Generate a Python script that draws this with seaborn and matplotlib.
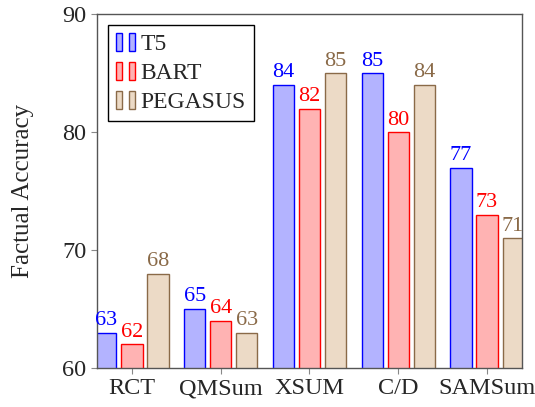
import pandas as pd
import matplotlib
matplotlib.use('Agg')
import matplotlib.pyplot as plt
import seaborn as sns
from matplotlib.patches import Rectangle
from matplotlib.legend_handler import HandlerTuple

# data
datasets = ['RCT', 'QMSum', 'XSUM', 'C/D', 'SAMSum']
models = ['T5', 'BART', 'PEGASUS']
t5 = [63, 65, 84, 85, 77]
bart = [62, 64, 82, 80, 73]
pegasus = [68, 63, 85, 84, 71]

fills = ['#b3b3ff', '#ffb3b3', '#ecdac6']
edges = ['#0000ff', '#ff0000', '#8a6a48']

df = pd.DataFrame({
    'dataset': datasets * 3,
    'model': ['T5'] * 5 + ['BART'] * 5 + ['PEGASUS'] * 5,
    'score': t5 + bart + pegasus,
})

sns.set_style('white')
plt.rcParams['font.family'] = ['Liberation Serif', 'DejaVu Serif']

fig = plt.figure(figsize=(5.35, 4.07), dpi=100)
ax = fig.add_axes([0.1813, 0.0958, 0.7944, 0.8686])

sns.barplot(data=df, x='dataset', y='score', hue='model', order=datasets,
            hue_order=models, palette=fills, width=0.88, gap=0.19,
            saturation=1, ax=ax, legend=False)

for cont, ec in zip(ax.containers, edges):
    for p in cont:
        p.set_edgecolor(ec)
        p.set_linewidth(1.0)
    ax.bar_label(cont, fmt='%d', color=ec, fontsize=16, padding=2)

ax.set_ylim(60, 90)
ax.set_xlim(-0.394, 4.394)
ax.set_yticks([60, 70, 80, 90])
ax.set_xlabel('')
ax.set_ylabel('Factual Accuracy', fontsize=18)
ax.yaxis.set_label_coords(-0.148, 0.5)
ax.tick_params(axis='both', labelsize=17.5, length=4, color='#888888',
               bottom=True, left=True, direction='out')
for s in ax.spines.values():
    s.set_color('#555555')
    s.set_linewidth(1.0)

handles = []
for f, e in zip(fills, edges):
    r1 = Rectangle((0, 0), 1, 1, facecolor=f, edgecolor=e, lw=1.0)
    r2 = Rectangle((0, 0), 1, 1, facecolor=f, edgecolor=e, lw=1.0)
    handles.append((r1, r2))
leg = ax.legend(handles, models, loc='upper left',
                handler_map={tuple: HandlerTuple(ndivide=None, pad=0.28)},
                handlelength=0.8, handleheight=0.75, handletextpad=0.25,
                fontsize=17, frameon=True, fancybox=False, framealpha=1,
                borderpad=0.35, labelspacing=0.3, borderaxespad=0.45)
leg.get_frame().set_edgecolor('black')
leg.get_frame().set_linewidth(1.0)

plt.savefig('out.png', dpi=100)
